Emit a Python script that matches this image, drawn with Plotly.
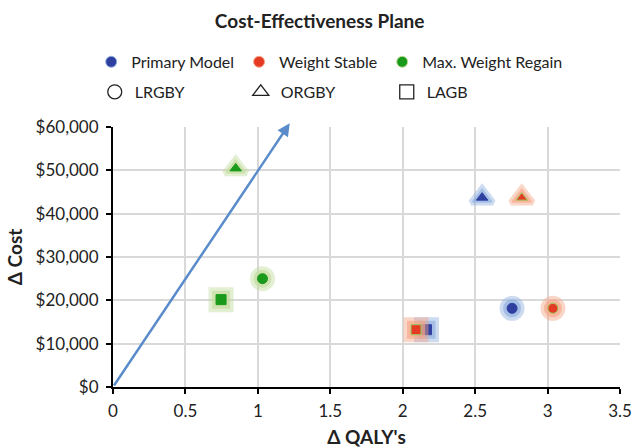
import plotly.graph_objects as go

# ---- data ----
procedures = ["LRGBY", "ORGBY", "LAGB"]
models = ["Primary Model", "Weight Stable", "Max. Weight Regain"]

primary_qaly = [2.755, 2.548, 2.164]
primary_cost = [18150, 43700, 13225]
stable_qaly = [3.037, 2.822, 2.092]
stable_cost = [18150, 43700, 13225]
regain_qaly = [1.032, 0.847, 0.746]
regain_cost = [25000, 50450, 20160]

arrow_end_qaly = 1.22
arrow_end_cost = 60850

x_ticks = [0, 0.5, 1, 1.5, 2, 2.5, 3, 3.5]
x_tick_text = ["0", "0.5", "1", "1.5", "2", "2.5", "3", "3.5"]
y_ticks = [0, 10000, 20000, 30000, 40000, 50000, 60000]
y_tick_text = ["$0", "$10,000", "$20,000", "$30,000", "$40,000", "$50,000", "$60,000"]

FONT = "Lato"
TXT = "#222222"
symbols = ["circle", "triangle-up", "square"]

series = [
    (models[0], primary_qaly, primary_cost, "#2f3f9f", "#8fb0e0", None),
    (models[1], stable_qaly, stable_cost, "#e53b25", "#f6a687", "#9acb5a"),
    (models[2], regain_qaly, regain_cost, "#1a9a1a", "#c2dc9c", None),
]

fig = go.Figure()

for name, xs, ys, col, glow, edge in series:
    # soft halo
    fig.add_trace(go.Scatter(
        x=xs, y=ys, mode="markers", showlegend=False, hoverinfo="skip",
        marker=dict(symbol=symbols, size=19, color=glow, opacity=0.45,
                    line=dict(color=glow, width=6)),
    ))
    fig.add_trace(go.Scatter(
        x=xs, y=ys, mode="markers", showlegend=False, hoverinfo="skip",
        marker=dict(symbol=symbols, size=16, color=glow, opacity=0.65,
                    line=dict(color=glow, width=2)),
    ))
    fig.add_trace(go.Scatter(
        x=xs, y=ys, mode="markers", showlegend=False, name=name,
        text=procedures,
        marker=dict(symbol=symbols, size=10, color=col,
                    line=dict(color=edge if edge else col, width=1)),
    ))

# legend entries: models (colour)
for name, xs, ys, col, glow, edge in series:
    fig.add_trace(go.Scatter(
        x=[None], y=[None], mode="markers", name=name, legend="legend",
        marker=dict(symbol="circle", size=11, color=col,
                    line=dict(color=glow, width=1)),
    ))
# legend entries: procedures (shape)
for proc, sym in zip(procedures, ["circle-open", "triangle-up-open", "square-open"]):
    fig.add_trace(go.Scatter(
        x=[None], y=[None], mode="markers", name=proc, legend="legend2",
        marker=dict(symbol=sym, size=14, color=TXT, line=dict(width=1.3)),
    ))

fig.add_annotation(
    x=arrow_end_qaly, y=arrow_end_cost, ax=0, ay=0,
    xref="x", yref="y", axref="x", ayref="y",
    showarrow=True, arrowhead=2, arrowsize=1, arrowwidth=2.5,
    arrowcolor="#5a8ccb", text="",
)

legend_common = dict(
    orientation="h", xanchor="left", yanchor="middle",
    font=dict(family=FONT, size=16, color=TXT),
    bgcolor="rgba(0,0,0,0)", itemclick=False, itemdoubleclick=False,
)

fig.update_layout(
    width=633, height=448,
    margin=dict(l=113, r=13, t=127, b=61, autoexpand=False),
    paper_bgcolor="white", plot_bgcolor="white",
    font=dict(family=FONT, size=16, color=TXT),
    title=dict(text="<b>Cost-Effectiveness Plane</b>", x=0.505, xanchor="center",
               y=0.952, yanchor="middle", font=dict(family=FONT, size=19, color=TXT)),
    legend=dict(**legend_common, x=-0.043, y=1.2505),
    legend2=dict(**legend_common, x=-0.036, y=1.135,
                 entrywidth=101, entrywidthmode="pixels"),
    xaxis=dict(
        range=[0, 3.5], tickvals=x_ticks, ticktext=x_tick_text,
        showgrid=True, gridcolor="#d9d9d9", gridwidth=1.5,
        showline=True, linecolor="black", linewidth=2,
        ticks="outside", ticklen=5, tickcolor="black", tickwidth=1.5,
        ticklabelstandoff=3,
        zeroline=False, tickfont=dict(family=FONT, size=17, color=TXT),
        title=dict(text="<b>Δ QALY's</b>", font=dict(family=FONT, size=19, color=TXT),
                   standoff=14),
    ),
    yaxis=dict(
        range=[0, 60000], tickvals=y_ticks, ticktext=y_tick_text,
        showgrid=True, gridcolor="#d9d9d9", gridwidth=1.5,
        showline=True, linecolor="black", linewidth=2,
        ticks="outside", ticklen=5, tickcolor="black", tickwidth=1.5,
        ticklabelstandoff=4,
        zeroline=False, tickfont=dict(family=FONT, size=17, color=TXT),
        title=dict(text="<b>Δ Cost</b>", font=dict(family=FONT, size=19, color=TXT),
                   standoff=8),
    ),
)

fig.write_html("out.html", config={"displayModeBar": False},
               post_script="document.body.style.margin='0';")
